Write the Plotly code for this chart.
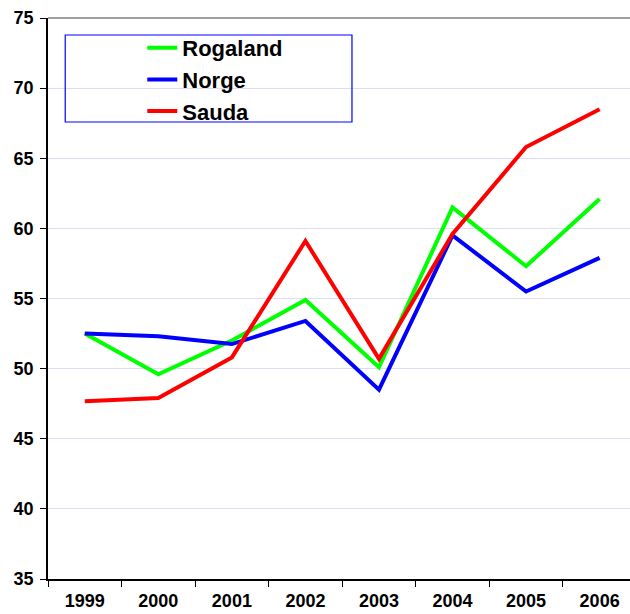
import plotly.graph_objects as go

years = ["1999", "2000", "2001", "2002", "2003", "2004", "2005", "2006"]
rogaland = [52.5, 49.6, 52.0, 54.9, 50.1, 61.5, 57.3, 62.1]
norge = [52.5, 52.3, 51.75, 53.4, 48.5, 59.5, 55.5, 57.9]
sauda = [47.67, 47.9, 50.8, 59.1, 50.7, 59.6, 65.8, 68.5]

series = [("Rogaland", rogaland, "#00ff00"), ("Norge", norge, "#0000ff"), ("Sauda", sauda, "#ff0000")]

fig = go.Figure()
for name, vals, col in series:
    fig.add_trace(go.Scatter(x=years, y=vals, name=name, mode="lines",
                             line=dict(color=col, width=4)))

fig.update_layout(
    width=630, height=614,
    margin=dict(l=48, r=0, t=18, b=35, autoexpand=False),
    plot_bgcolor="white", paper_bgcolor="white",
    font=dict(family="Liberation Sans, Arial, sans-serif", color="black"),
    legend=dict(x=0.162, y=0.984, xanchor="left", yanchor="top",
                font=dict(size=22, family="Liberation Sans, Arial, sans-serif", weight="bold"),
                bgcolor="rgba(0,0,0,0)", borderwidth=0, tracegroupgap=0, itemwidth=30),
    xaxis=dict(type="category", range=[-0.5, 7.413], tickson="boundaries", automargin=False,
               ticks="outside", ticklen=6, tickcolor="black", showgrid=False,
               showline=True, linecolor="black", linewidth=1.5,
               tickfont=dict(size=18, weight="bold"), ticklabelstandoff=5),
    yaxis=dict(range=[35, 75], dtick=5, ticks="outside", ticklen=6, tickcolor="black",
               automargin=False,
               showline=True, linecolor="black", linewidth=1.5,
               gridcolor="#dcdcf6", gridwidth=1, zeroline=False,
               tickfont=dict(size=18, weight="bold"), ticklabelstandoff=3),
    shapes=[
        dict(type="line", xref="paper", yref="paper", x0=0, x1=1, y0=1, y1=1,
             line=dict(color="#808080", width=1.5)),
        dict(type="rect", xref="paper", yref="paper", x0=0.0296, x1=0.5223, y0=0.8146, y1=0.9697,
             line=dict(color="#0000ff", width=1.2), fillcolor="rgba(0,0,0,0)", layer="above"),
    ],
)

fig.write_html("out.html", config={"displayModeBar": False},
               post_script="document.body.style.margin='0';document.body.style.overflow='hidden';")
